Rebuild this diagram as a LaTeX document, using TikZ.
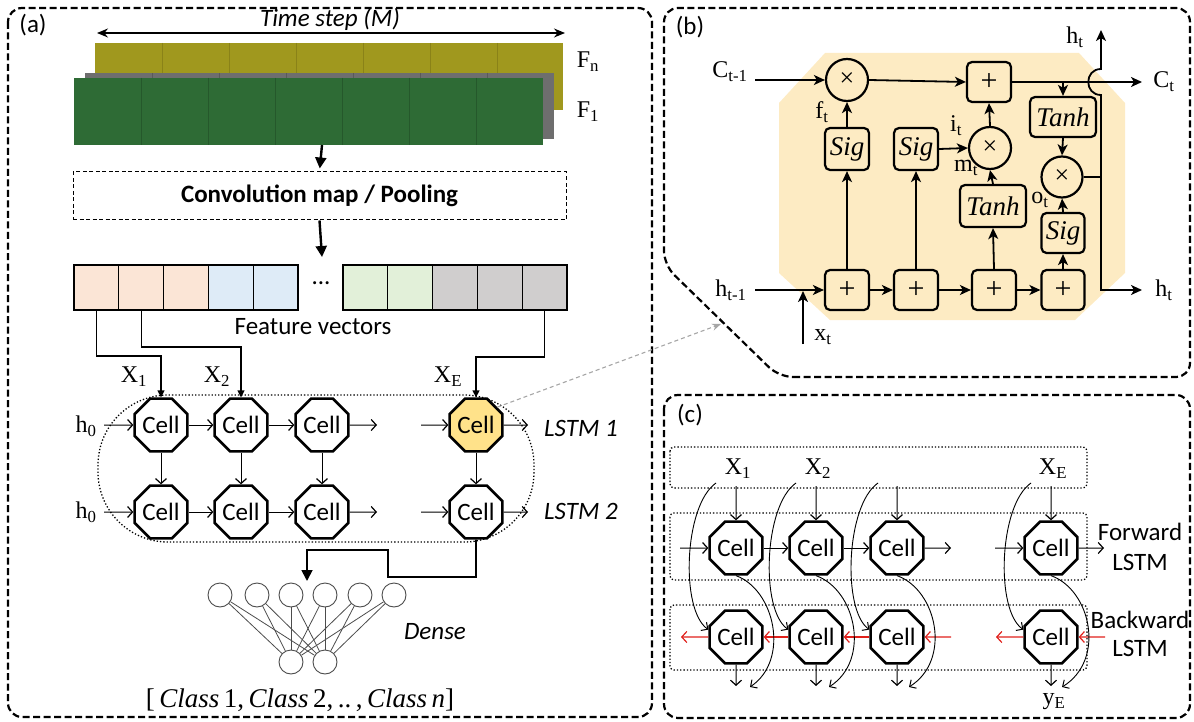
\documentclass[tikz,border=0pt]{standalone}
\usepackage{fontspec}
\setsansfont{Carlito}
\newfontfamily\tms{Liberation Serif}
\usetikzlibrary{shapes.geometric,arrows.meta}
\definecolor{olivebar}{HTML}{A0981E}
\definecolor{olivedark}{HTML}{8A8218}
\definecolor{greybar}{HTML}{6E6E6E}
\definecolor{greydark}{HTML}{5A5A5A}
\definecolor{greenbar}{HTML}{2E6B35}
\definecolor{greendark}{HTML}{25582B}
\definecolor{peach}{HTML}{FBE5D6}
\definecolor{lblue}{HTML}{DEEBF7}
\definecolor{lgreen}{HTML}{E2F0D9}
\definecolor{lgrey}{HTML}{D0CECE}
\definecolor{cellyellow}{HTML}{FFE28A}
\definecolor{beige}{HTML}{FDEBC3}
\definecolor{redarr}{HTML}{E0201B}
\begin{document}
\begin{tikzpicture}[x=1pt,y=-1pt,
  panel/.style={line width=2.2pt, dash pattern=on 7pt off 3.5pt, rounded corners=14pt},
  sf/.style={font=\sffamily\fontsize{25}{29}\selectfont},
  sfb/.style={font=\sffamily\bfseries\fontsize{25}{29}\selectfont},
  sfi/.style={font=\sffamily\itshape\fontsize{25}{29}\selectfont},
  rm/.style={font=\tms\fontsize{24}{28}\selectfont},
  rmi/.style={font=\tms\itshape\fontsize{27}{30}\selectfont},
  cell/.style={regular polygon, regular polygon sides=8, minimum size=56pt, inner sep=0pt, draw, line width=2.6pt, fill=white, sf},
  fv/.style={draw, line width=1.3pt, minimum width=44.8pt, minimum height=45pt, inner sep=0pt, outer sep=0pt},
  oarr/.style={line width=1pt, -{Straight Barb[length=5pt,width=11pt,line width=1.2pt]}},
  rarr/.style={line width=1.2pt, draw=redarr, -{Straight Barb[length=5pt,width=11pt,line width=1.2pt]}},
  farr/.style={line width=1.3pt, -{Triangle[length=7pt,width=7pt]}},
  barr/.style={line width=2.4pt, -{Triangle[length=11pt,width=11pt]}},
  bx/.style={draw, line width=2.2pt, rounded corners=5pt, fill=beige, inner sep=0pt, minimum width=44pt, minimum height=40pt},
  bc/.style={circle, draw, line width=2.2pt, fill=beige, minimum size=42pt, inner sep=0pt},
  ba/.style={line width=1.8pt, -{Stealth[length=11pt,width=10pt,inset=3pt]}},
  bl/.style={line width=1.8pt},
  dn/.style={circle, draw=black!70, line width=0.9pt, minimum size=24pt, inner sep=0pt},
  dl/.style={draw=black!70, line width=0.8pt},
  dbox/.style={dotted, line width=1.3pt, rounded corners=4pt},
  carr/.style={line width=0.9pt, -{Straight Barb[length=5pt,width=10pt,line width=1pt]}}
]
\useasboundingbox (0,0) rectangle (1194,722);

% ================= Panel (a) =================
\draw[panel] (8,8) rectangle (652,717);
\node[sf] (la) at (33,25) {(a)};
\node[sfi] (ts) at (330,19) {Time step (M)};
\coordinate (tsl) at (97,33);
\coordinate (tsr) at (565,33);
\draw[line width=1.3pt, {Stealth[length=11pt,width=9pt]}-{Stealth[length=11pt,width=9pt]}] (tsl) -- (tsr);

\fill[olivebar] (95,43) rectangle (563,110);
\foreach \k in {1,...,6} \draw[olivedark, line width=0.8pt] ({95+67*\k},43) -- ({95+67*\k},110);
\fill[greybar] (85,73) rectangle (554,139);
\foreach \k in {1,...,6} \draw[greydark, line width=0.8pt] ({85+67*\k},73) -- ({85+67*\k},139);
\fill[greenbar] (74,78) rectangle (543,145);
\foreach \k in {1,...,6} \draw[greendark, line width=0.8pt] ({74+67*\k},78) -- ({74+67*\k},145);
\node[rm] (fn) at (588,62) {F\textsubscript{n}};
\node[rm] (fone) at (588,112) {F\textsubscript{1}};

\coordinate (s1) at (322,145);
\node[draw, dash pattern=on 4pt off 2.5pt, line width=1pt, minimum width=493pt, minimum height=48pt, inner sep=0pt, sfb] (conv) at (319.5,196) {Convolution map / Pooling};
\draw[barr, shorten >=3pt] (s1) -- (conv.north);
\coordinate (fvt) at (322,257);
\draw[barr] (conv.south) -- (fvt);

\node[fv, fill=peach] (v1) at (96.4,287.5) {};
\node[fv, fill=peach] (v2) at (141.2,287.5) {};
\node[fv, fill=peach] (v3) at (186,287.5) {};
\node[fv, fill=lblue] (v4) at (230.8,287.5) {};
\node[fv, fill=lblue] (v5) at (275.6,287.5) {};
\node[fv, fill=lgreen] (v6) at (365.4,287.5) {};
\node[fv, fill=lgreen] (v7) at (410.2,287.5) {};
\node[fv, fill=lgrey] (v8) at (455,287.5) {};
\node[fv, fill=lgrey] (v9) at (499.8,287.5) {};
\node[fv, fill=lgrey] (v10) at (544.6,287.5) {};
\node[sf] (dots) at (321,283) {...};
\node[sf] (fvl) at (313,327) {Feature vectors};

\draw[dotted, line width=1.3pt, rounded corners=70pt] (98,395) rectangle (534,542);

\node[cell] (a11) at (161,425) {Cell};
\node[cell] (a12) at (241,425) {Cell};
\node[cell] (a13) at (322,425) {Cell};
\node[cell, fill=cellyellow] (a14) at (476,425) {Cell};
\node[cell] (a21) at (161,512) {Cell};
\node[cell] (a22) at (241,512) {Cell};
\node[cell] (a23) at (322,512) {Cell};
\node[cell] (a24) at (476,512) {Cell};

\draw[farr] (v1.south) -- ++(0,46) -| (a11.north);
\draw[farr] (v2.south) -- ++(0,37) -| (a12.north);
\draw[farr] (v10.south) -- ++(0,47) -| (a14.north);
\node[rm] (x1) at (134,377) {X\textsubscript{1}};
\node[rm] (x2) at (217,377) {X\textsubscript{2}};
\node[rm] (xe) at (448,377) {X\textsubscript{E}};

\node[rm] (h01) at (86,426) {h\textsubscript{0}};
\node[rm] (h02) at (86,512) {h\textsubscript{0}};
\coordinate (h0a) at (104,425);
\coordinate (h0b) at (104,512);
\coordinate (r1a) at (377,425);
\coordinate (r1b) at (421,425);
\coordinate (r1c) at (528,425);
\coordinate (r2a) at (377,512);
\coordinate (r2b) at (421,512);
\coordinate (r2c) at (528,512);
\draw[oarr] (h0a) -- (a11.west);
\draw[oarr] (a11.east) -- (a12.west);
\draw[oarr] (a12.east) -- (a13.west);
\draw[oarr] (a13.east) -- (r1a);
\draw[oarr] (r1b) -- (a14.west);
\draw[oarr] (a14.east) -- (r1c);
\draw[oarr] (h0b) -- (a21.west);
\draw[oarr] (a21.east) -- (a22.west);
\draw[oarr] (a22.east) -- (a23.west);
\draw[oarr] (a23.east) -- (r2a);
\draw[oarr] (r2b) -- (a24.west);
\draw[oarr] (a24.east) -- (r2c);
\foreach \i in {1,2,3,4} \draw[oarr] (a1\i.south) -- (a2\i.north);
\node[sfi] (l1) at (581,428) {LSTM 1};
\node[sfi] (l2) at (581,511) {LSTM 2};

\coordinate (o1) at (476,577);
\coordinate (o2) at (388,577);
\coordinate (o3) at (388,550);
\coordinate (o4) at (307,550);
\coordinate (o5) at (307,581);
\draw[line width=1.8pt, -{Triangle[length=11pt,width=11pt]}] (a24.south) -- (o1) -- (o2) -- (o3) -- (o4) -- (o5);

\foreach \i/\x in {1/220,2/257,3/291,4/325,5/360,6/394} \node[dn] (d\i) at (\x,595) {};
\node[dn] (e1) at (291,662) {};
\node[dn] (e2) at (325,662) {};
\foreach \i in {1,...,6} {\draw[dl] (d\i) -- (e1); \draw[dl] (d\i) -- (e2);}
\node[sfi] (dense) at (435,632) {Dense};
\node[font=\tms\fontsize{27}{30}\selectfont] (cls) at (300,700) {[\,\textit{Class}\,1,\,\textit{Class}\,2,\,..\,,\,\textit{Class}\,\textit{n}]};

% ================= Panel (b) =================
\draw[panel] (779,377) -- (1190,377) -- (1190,8) -- (664,8) -- (664,265) -- cycle;
\node[sf] (lb) at (690,27) {(b)};
\fill[beige] (825,53) -- (1079,53) -- (1125,103) -- (1125,273) -- (1075,320) -- (830,320) -- (779,273) -- (779,103) -- cycle;

\node[bc] (m1) at (847,80) {\tms\fontsize{26}{28}\selectfont ×};
\node[bx] (pt) at (989,82) {\tms\fontsize{30}{30}\selectfont +};
\node[bx, minimum width=66pt, rmi] (t1) at (1063,117) {Tanh};
\node[bc, minimum size=41pt] (m3) at (1062,177) {\tms\fontsize{26}{28}\selectfont ×};
\node[bx, minimum width=43pt, rmi] (s3) at (1063,233) {Sig};
\node[bx, minimum width=43pt] (p4) at (1063,290) {\tms\fontsize{30}{30}\selectfont +};
\node[bx] (p1) at (847,290) {\tms\fontsize{30}{30}\selectfont +};
\node[bx] (p2) at (916,290) {\tms\fontsize{30}{30}\selectfont +};
\node[bx] (p3) at (994,290) {\tms\fontsize{30}{30}\selectfont +};
\node[bx, minimum height=42pt, rmi] (s1b) at (847,149) {Sig};
\node[bx, minimum height=42pt, rmi] (s2b) at (916,149) {Sig};
\node[bc] (m2) at (990,148) {\tms\fontsize{26}{28}\selectfont ×};
\node[bx, minimum width=66pt, minimum height=42pt, rmi] (t2) at (993,206) {Tanh};

\node[rm] (cprev) at (730,72) {C\textsubscript{t-1}};
\coordinate (cin) at (755,80);
\draw[ba] (cin) -- (m1.west);
\draw[ba] (m1.east) -- (pt.west);
\coordinate (cout) at (1142,82);
\draw[ba] (pt.east) -- (cout);
\node[rm] (cnext) at (1164,82) {C\textsubscript{t}};
\draw[ba] (t1.north |- pt.east) -- (t1.north);
\draw[ba] (t1.south) -- (m3.north);
\draw[ba] (p4.north) -- (s3.south);
\draw[ba] (s3.north) -- (m3.south);
\coordinate (J) at (1101,177);
\coordinate (hop1) at (1101,95);
\coordinate (hop2) at (1101,69);
\coordinate (htop) at (1101,30);
\coordinate (hout) at (1142,290);
\draw[bl] (m3.east) -- (J);
\draw[ba] (J) -- (hop1) .. controls (1084,95) and (1084,69) .. (hop2) -- (htop);
\draw[ba] (J) |- (hout);
\node[rm] (htl) at (1075,37) {h\textsubscript{t}};
\node[rm] (hbl) at (1164,290) {h\textsubscript{t}};
\node[rm] (hprev) at (731,290) {h\textsubscript{t-1}};
\coordinate (hin) at (755,290);
\draw[ba] (hin) -- (p1.west);
\coordinate (xb) at (803,344);
\coordinate (xtop) at (803,291);
\draw[ba] (xb) -- (xtop);
\node[rm] (xt) at (823,337) {x\textsubscript{t}};
\draw[ba] (p1.east) -- (p2.west);
\draw[ba] (p2.east) -- (p3.west);
\draw[ba] (p3.east) -- (p4.west);
\draw[ba] (p1.north) -- (s1b.south);
\draw[ba] (s1b.north) -- (m1.south);
\draw[ba] (p2.north) -- (s2b.south);
\draw[ba] (s2b.east) -- (m2.west);
\draw[ba] (p3.north) -- (t2.south);
\draw[ba] (t2.north) -- (m2.south);
\draw[ba] (m2.north) -- (pt.south);
\node[rm] (ft) at (822,112) {f\textsubscript{t}};
\node[rm] (it) at (956,126) {i\textsubscript{t}};
\node[rm] (mt) at (966,168) {m\textsubscript{t}};
\node[rm] (ot) at (1040,200) {o\textsubscript{t}};

\coordinate (bp) at (721,324);
\draw[gray!70, dash pattern=on 4pt off 3pt, line width=1.1pt, -{Stealth[length=9pt,width=7pt]}] (a14.40) -- (bp);

% ================= Panel (c) =================
\draw[panel] (664,395) rectangle (1190,718);
\node[sf] (lc) at (690,415) {(c)};
\draw[dbox] (670,447) rectangle (1087,488);
\draw[dbox] (670,513) rectangle (1087,580);
\draw[dbox] (670,605) rectangle (1087,670);

\node[cell] (c11) at (736,548) {Cell};
\node[cell] (c12) at (816,548) {Cell};
\node[cell] (c13) at (897,548) {Cell};
\node[cell] (c14) at (1051,548) {Cell};
\node[cell] (c21) at (736,637) {Cell};
\node[cell] (c22) at (816,637) {Cell};
\node[cell] (c23) at (897,637) {Cell};
\node[cell] (c24) at (1051,637) {Cell};

\node[rm] (cx1) at (738,469) {X\textsubscript{1}};
\node[rm] (cx2) at (818,469) {X\textsubscript{2}};
\node[rm] (cxe) at (1053,469) {X\textsubscript{E}};
\foreach \i/\x in {1/736,2/816,3/897,4/1051} {
  \coordinate (ti\i) at (\x,486);
  \draw[oarr] (ti\i) -- (c1\i.north);
  \coordinate (bo\i) at (\x,686);
  \draw[oarr] (c2\i.south) -- (bo\i);
}
\coordinate (fa) at (680,548);
\coordinate (fb) at (951,548);
\coordinate (fc) at (995,548);
\coordinate (fd) at (1104,548);
\draw[oarr] (fa) -- (c11.west);
\draw[oarr] (c11.east) -- (c12.west);
\draw[oarr] (c12.east) -- (c13.west);
\draw[oarr] (c13.east) -- (fb);
\draw[oarr] (fc) -- (c14.west);
\draw[oarr] (c14.east) -- (fd);
\coordinate (ba1) at (681,637);
\coordinate (ba2) at (951,637);
\coordinate (ba3) at (996,637);
\coordinate (ba4) at (1105,637);
\draw[rarr] (c21.west) -- (ba1);
\draw[rarr] (c22.west) -- (c21.east);
\draw[rarr] (c23.west) -- (c22.east);
\draw[rarr] (ba2) -- (c23.east);
\draw[rarr] (c24.west) -- (ba3);
\draw[rarr] (ba4) -- (c24.east);

\foreach \i/\x in {1/716,2/796,3/878,4/1031} {
  \coordinate (cs\i) at (\x,483);
  \draw[carr] (cs\i) .. controls (\x-32,505) and (\x-36,610) .. (c2\i.165);
}
\foreach \i/\x/\e in {1/733/750,2/814/829,3/895/909,4/1049/1062} {
  \coordinate (ce\i) at (\e,687);
  \draw[carr] (c1\i.south) .. controls (\x+42,590) and (\x+57,660) .. (ce\i);
}
\node[rm] (ye) at (1054,702) {y\textsubscript{E}};
\node[sf] (fw1) at (1140,532) {Forward};
\node[sf] (fw2) at (1140,562) {LSTM};
\node[sf] (bw1) at (1140,620) {Backward};
\node[sf] (bw2) at (1140,648) {LSTM};
\end{tikzpicture}
\end{document}
